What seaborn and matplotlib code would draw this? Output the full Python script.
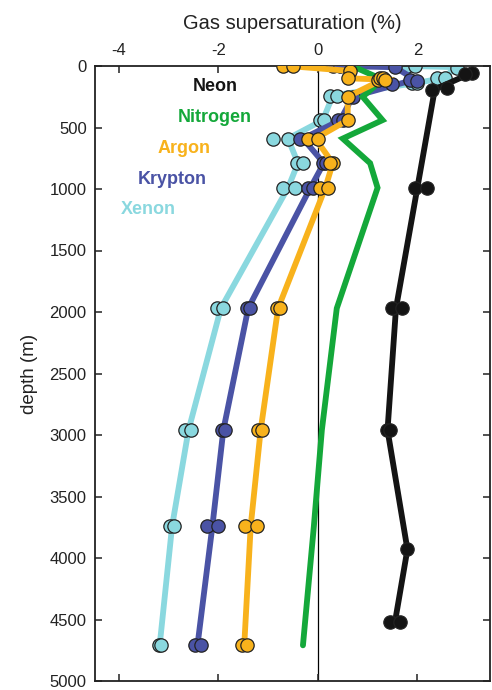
import matplotlib
matplotlib.use("Agg")
import matplotlib.pyplot as plt
import seaborn as sns

# ---- profile lines (depth in m, supersaturation in %) ----
neon_line_depth = [55, 190, 990, 1970, 2960, 3930, 4520]
neon_line_val = [3.1, 2.35, 2.0, 1.57, 1.4, 1.8, 1.55]

nitrogen_line_depth = [20, 110, 250, 440, 590, 790, 990, 1970, 2960, 3740, 4710]
nitrogen_line_val = [0.8, 1.3, 0.9, 1.3, 0.5, 1.05, 1.2, 0.38, 0.08, -0.08, -0.3]

argon_line_depth = [0, 40, 100, 110, 250, 440, 590, 790, 990, 1970, 2960, 3740, 4710]
argon_line_val = [-0.6, 0.65, 0.6, 1.3, 0.6, 0.6, -0.05, 0.3, 0.15, -0.8, -1.15, -1.35, -1.48]

krypton_line_depth = [0, 10, 110, 250, 440, 590, 790, 990, 1970, 2960, 3740, 4710]
krypton_line_val = [0.4, 1.55, 1.95, 0.7, 0.45, -0.3, 0.12, -0.15, -1.4, -1.9, -2.12, -2.42]

xenon_line_depth = [0, 10, 100, 140, 240, 440, 590, 790, 990, 1970, 2960, 3740, 4710]
xenon_line_val = [1.85, 2.8, 2.5, 1.95, 0.3, 0.1, -0.6, -0.4, -0.6, -1.95, -2.6, -2.93, -3.18]

# ---- individual samples ----
neon_pt_depth = [55, 65, 195, 180, 990, 990, 1970, 1970, 2960, 2960, 3930, 4520, 4520]
neon_pt_val = [3.1, 2.95, 2.3, 2.6, 1.95, 2.2, 1.5, 1.7, 1.38, 1.45, 1.8, 1.45, 1.65]

argon_pt_depth = [0, 0, 40, 100, 110, 100, 100, 110, 250, 440, 590, 590, 790, 790,
                  990, 990, 1970, 1970, 2960, 2960, 3740, 3740, 4710, 4710]
argon_pt_val = [-0.7, -0.5, 0.65, 0.6, 1.2, 1.25, 1.3, 1.35, 0.6, 0.6, -0.2, 0.0, 0.3, 0.25,
                0.05, 0.2, -0.83, -0.77, -1.2, -1.12, -1.47, -1.23, -1.53, -1.43]

krypton_pt_depth = [0, 0, 10, 150, 110, 120, 250, 440, 440, 590, 790, 790,
                    990, 990, 1970, 1970, 2960, 2960, 3740, 3740, 4710, 4710]
krypton_pt_val = [0.3, 0.45, 1.55, 1.5, 1.85, 2.0, 0.7, 0.4, 0.5, -0.35, 0.1, 0.17,
                  -0.2, -0.1, -1.43, -1.37, -1.93, -1.87, -2.23, -2.0, -2.47, -2.35]

xenon_pt_depth = [0, 0, 15, 100, 100, 140, 140, 240, 240, 440, 440, 590, 590, 790, 790,
                  990, 990, 1970, 1970, 2960, 2960, 3740, 3740, 4710, 4710]
xenon_pt_val = [1.8, 1.95, 2.8, 2.4, 2.55, 1.9, 2.0, 0.25, 0.38, 0.05, 0.12, -0.9, -0.6, -0.42, -0.3,
                -0.7, -0.45, -2.03, -1.9, -2.67, -2.55, -2.97, -2.9, -3.2, -3.15]

gas_names = ["Neon", "Nitrogen", "Argon", "Krypton", "Xenon"]
gas_colors = {"Neon": "#141414", "Nitrogen": "#14a83a", "Argon": "#f8b21c",
              "Krypton": "#4a53a5", "Xenon": "#8ad8df"}

x_ticks = [-4, -2, 0, 2]
y_ticks = list(range(0, 5001, 500))

sns.set_theme(style="ticks")
plt.rcParams["font.family"] = ["Liberation Sans", "DejaVu Sans"]
plt.rcParams["lines.solid_joinstyle"] = "miter"

fig = plt.figure(figsize=(4.92, 6.9), dpi=100)
ax = fig.add_axes([95 / 492, 1 - 681 / 690, (490 - 95) / 492, (681 - 66) / 690])

ax.axvline(0, color="black", lw=0.9, zorder=0.5)

layers = [
    ("Xenon", xenon_line_val, xenon_line_depth, xenon_pt_val, xenon_pt_depth, 2),
    ("Krypton", krypton_line_val, krypton_line_depth, krypton_pt_val, krypton_pt_depth, 3),
    ("Nitrogen", nitrogen_line_val, nitrogen_line_depth, None, None, 4),
    ("Argon", argon_line_val, argon_line_depth, argon_pt_val, argon_pt_depth, 5),
    ("Neon", neon_line_val, neon_line_depth, neon_pt_val, neon_pt_depth, 6),
]

for name, lv, ld, pv, pd_, z in layers:
    col = gas_colors[name]
    sns.lineplot(x=lv, y=ld, sort=False, estimator=None, orient="y", color=col,
                 lw=4.2, ax=ax, zorder=z, legend=False)
    if pv is not None:
        sns.scatterplot(x=pv, y=pd_, color=col, s=92, edgecolor="#222222",
                        linewidth=0.9, ax=ax, zorder=z + 0.5, legend=False)

# gas labels drawn inside the axes
label_pos = {"Neon": (-2.07, 170), "Nitrogen": (-2.07, 415), "Argon": (-2.7, 670),
             "Krypton": (-2.93, 922), "Xenon": (-3.4, 1165)}
for name in gas_names:
    lx, ly = label_pos[name]
    ax.text(lx, ly, name, color=gas_colors[name], fontsize=13, fontweight="bold",
            ha="center", va="center")

ax.set_xlim(-4.48, 3.46)
ax.set_ylim(5000, 0)
ax.set_xticks(x_ticks)
ax.set_xticklabels([str(t) for t in x_ticks])
ax.set_yticks(y_ticks)
ax.xaxis.tick_top()
ax.xaxis.set_label_position("top")
ax.tick_params(direction="in", top=True, bottom=True, left=True, right=True,
               labeltop=True, labelbottom=False, labelsize=12, length=5,
               width=1.1, color="#222222", labelcolor="#222222", pad=6)
for sp in ax.spines.values():
    sp.set_linewidth(1.3)
    sp.set_color("#222222")

ax.set_xlabel("Gas supersaturation (%)", fontsize=14.5, color="#222222", labelpad=10)
ax.set_ylabel("depth (m)", fontsize=13.5, color="#222222", labelpad=8)

fig.savefig("out.png", dpi=100)
